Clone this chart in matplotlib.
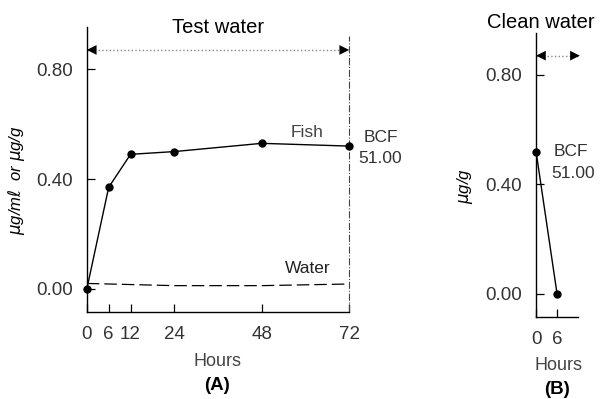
import numpy as np
import matplotlib.pyplot as plt

plt.rcParams['font.family'] = ['Liberation Sans', 'DejaVu Sans']

# (A) uptake in test water
hours_a = [0, 6, 12, 24, 48, 72]
fish_a = [0.00, 0.37, 0.49, 0.50, 0.53, 0.52]
water_hours = [0, 24, 48, 72]
water_a = [0.02, 0.012, 0.012, 0.018]

# (B) depuration in clean water
hours_b = [0, 6]
fish_b = [0.52, 0.00]

yticks = [0.0, 0.4, 0.8]
ytick_labels = ['0.00', '0.40', '0.80']
bcf = '51.00'

W, H = 603, 399
fig = plt.figure(figsize=(W / 100, H / 100), dpi=100)
axA = fig.add_axes([0.144, 0.218, 0.435, 0.714])
axB = fig.add_axes([0.889, 0.2055, 0.0697, 0.712])


def ftext(x, y, s, **kw):
    # place text by pixel position (origin top-left)
    fig.text(x / W, 1 - y / H, s, ha='center', va='center', **kw)


def period_arrow(ax, x0, x1, y):
    # dotted grey shaft, solid black heads
    ax.plot([x0, x1], [y, y], ls=':', color='#888888', lw=1.0, clip_on=False)
    ax.annotate('', xy=(x0, y), xytext=(x1, y), annotation_clip=False,
                arrowprops=dict(arrowstyle='<|-|>,head_length=0.5,head_width=0.25',
                                color='black', lw=0, mutation_scale=14,
                                shrinkA=0, shrinkB=0))


tick_col = '#333333'
for ax in (axA, axB):
    ax.spines['top'].set_visible(False)
    ax.spines['right'].set_visible(False)
    ax.set_ylim(-0.084, 0.953)
    ax.set_yticks(yticks)
    ax.set_yticklabels(ytick_labels)
    ax.tick_params(direction='in', length=6, width=0.9, labelsize=13.5,
                   labelcolor=tick_col, pad=10)
    for s in ('left', 'bottom'):
        ax.spines[s].set_linewidth(1.0)

# panel A
axA.set_xlim(0, 72)
axA.set_xticks(hours_a)
axA.plot(hours_a, fish_a, '-o', color='black', lw=1.0, ms=5, clip_on=False, zorder=3)
axA.plot(water_hours, water_a, color='black', lw=0.9, dashes=(10, 4))
axA.axvline(72, color='#444444', lw=0.8, ls='-.', ymin=0, ymax=0.97, clip_on=False)
period_arrow(axA, 0, 72, 0.87)
axA.text(36, 0.93, 'Test water', ha='center', va='baseline', fontsize=14.5)
axA.text(60.5, 0.57, 'Fish', ha='center', va='center', fontsize=12.5, color='#444444')
axA.text(60.5, 0.076, 'Water', ha='center', va='center', fontsize=12.5, color='#222222')
axA.text(76, 0.553, 'BCF', ha='left', va='center', fontsize=12.5, color='#333333')
axA.text(74.5, 0.476, bcf, ha='left', va='center', fontsize=12.5, color='#333333')

# panel B
axB.set_xlim(0, 12)
axB.set_xticks(hours_b)
axB.plot(hours_b, fish_b, '-o', color='black', lw=1.0, ms=5, clip_on=False, zorder=3)
period_arrow(axB, 0, 12.5, 0.87)
axB.text(1.3, 0.97, 'Clean water', ha='center', va='baseline', fontsize=14.5)
axB.text(10, 0.52, 'BCF', ha='center', va='center', fontsize=12.5, color='#333333')
axB.text(10.5, 0.44, bcf, ha='center', va='center', fontsize=12.5, color='#333333')

# axis titles and panel letters
ftext(17, 180, r'$\mu$g/m$\ell$  or $\mu$g/g', rotation=90, fontsize=12, style='italic')
ftext(465, 186, r'$\mu$g/g', rotation=90, fontsize=12, style='italic')
ftext(217, 362, 'Hours', fontsize=13, color='#444444')
ftext(217, 386, '(A)', fontsize=13.5, weight='bold')
ftext(558, 366, 'Hours', fontsize=13, color='#444444')
ftext(557, 389, '(B)', fontsize=13.5, weight='bold')

fig.savefig('out.png', dpi=100)
